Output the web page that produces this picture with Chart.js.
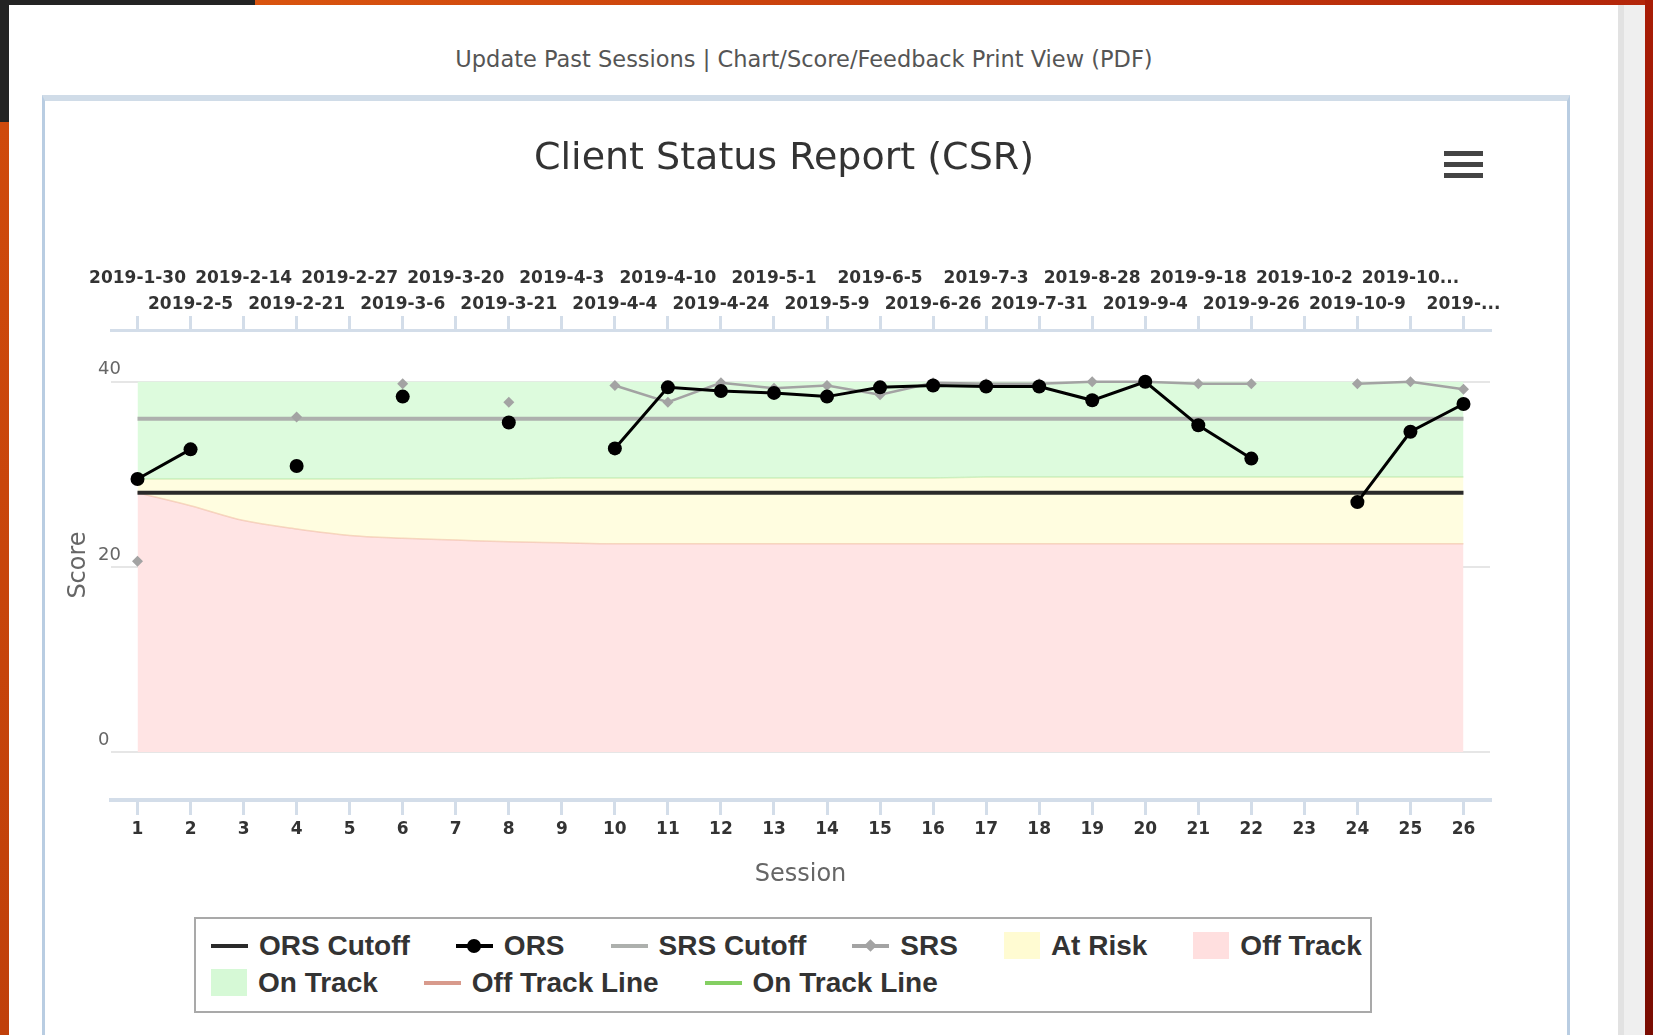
<!DOCTYPE html>
<html lang="en">
<head>
<meta charset="UTF-8">
<title>Client Status Report (CSR)</title>
<script src="https://cdn.jsdelivr.net/npm/chart.js@4.4.1/dist/chart.umd.min.js"></script>
<style>
    html, body { margin: 0; padding: 0; }
    body { width: 1653px; height: 1035px; overflow: hidden; position: relative; background: #c8410d; font-family: "DejaVu Sans", sans-serif; }
    .topbar { position: absolute; left: 0; top: 0; width: 1653px; height: 5px; background: linear-gradient(90deg, #232323 0, #232323 255px, #d9540f 255px, #b3260a 1645px, #8c1405 1645px); }
    .leftstrip { position: absolute; left: 0; top: 0; width: 9px; height: 1035px; background: linear-gradient(180deg, #232323 0, #232323 122px, #cf4a0c 122px, #c0400a 1035px); }
    .rightstrip { position: absolute; left: 1645px; top: 0; width: 8px; height: 1035px; background: linear-gradient(180deg, #a81c06, #7a0c02); }
    .panel { position: absolute; left: 9px; top: 5px; width: 1609px; height: 1030px; background: #fff; }
    .scroll { position: absolute; left: 1618px; top: 5px; width: 27px; height: 1030px; background: #efefef; border-left: 6px solid #e2e2e2; box-sizing: border-box; }
    .links { position: absolute; left: 304px; width: 1000px; top: 46px; text-align: center; font-size: 22.5px; color: #555; white-space: nowrap; }
    .box { position: absolute; left: 42px; top: 95px; width: 1528px; height: 960px; box-sizing: border-box; border-left: 3px solid #b9cde2; border-right: 3px solid #b9cde2; border-top: 6px solid #d0dce8; background: #fff; }
    .chart-wrap { position: absolute; left: 45px; top: 101px; width: 1478px; height: 790px; }
    .menu { position: absolute; left: 1444px; top: 151px; width: 39px; }
    .menu span { display: block; height: 5px; background: #444; margin-bottom: 6px; }
    #legend { position: absolute; left: 194px; top: 917px; width: 1178px; height: 96px; box-sizing: border-box; border: 2px solid #a9a9a9; padding: 8px 0 0 15px; display: flex; flex-wrap: wrap; column-gap: 46px; align-content: flex-start; font-family: "Liberation Sans", Arial, sans-serif; font-weight: bold; font-size: 28px; color: #333; }
    #legend .item { display: inline-flex; align-items: center; height: 37px; white-space: nowrap; }
    #legend .sym { position: relative; display: inline-block; margin-right: 11px; }
    #legend .sym.line { width: 37px; height: 4px; background: var(--c); }
    #legend .sym.rect { width: 36px; height: 27px; }
    #legend .sym.dot::after { content: ''; position: absolute; left: 50%; top: 50%; width: 14px; height: 14px; margin: -7px 0 0 -7px; border-radius: 50%; background: var(--c); }
    #legend .sym.diamond::after { content: ''; position: absolute; left: 50%; top: 50%; width: 9px; height: 9px; margin: -4.5px 0 0 -4.5px; transform: rotate(45deg); background: var(--c); }
    #legend .break { flex-basis: 100%; height: 0; }
</style>
</head>
<body>
    <div class="topbar"></div>
    <div class="leftstrip"></div>
    <div class="rightstrip"></div>
    <div class="panel"></div>
    <div class="scroll"></div>

    <div class="links">Update Past Sessions | Chart/Score/Feedback Print View (PDF)</div>

    <div class="box"></div>
    <div class="chart-wrap"><canvas id="csrChart"></canvas></div>
    <div class="menu"><span></span><span></span><span></span></div>
    <div id="legend"></div>

<script>
    // sessions along the bottom, visit dates along the top
    const sessions = ['1', '2', '3', '4', '5', '6', '7', '8', '9', '10', '11', '12', '13',
        '14', '15', '16', '17', '18', '19', '20', '21', '22', '23', '24', '25', '26'];
    const sessionDates = ['2019-1-30', '2019-2-5', '2019-2-14', '2019-2-21', '2019-2-27', '2019-3-6',
        '2019-3-20', '2019-3-21', '2019-4-3', '2019-4-4', '2019-4-10', '2019-4-24', '2019-5-1',
        '2019-5-9', '2019-6-5', '2019-6-26', '2019-7-3', '2019-7-31', '2019-8-28', '2019-9-4',
        '2019-9-18', '2019-9-26', '2019-10-2', '2019-10-9', '2019-10...', '2019-...'];

    const orsScores = [29.5, 32.7, null, 30.9, null, 38.4, null, 35.6, null, 32.8, 39.4, 39.0, 38.8,
        38.4, 39.4, 39.6, 39.5, 39.5, 38.0, 40.0, 35.3, 31.7, null, 27.0, 34.6, 37.6];
    const srsScores = [20.6, null, null, 36.2, null, 39.8, null, 37.8, null, 39.6, 37.8, 39.9, 39.3,
        39.6, 38.6, 39.9, 39.8, 39.8, 40.0, 40.0, 39.8, 39.8, null, 39.8, 40.0, 39.2];

    const orsCutoff = [28, 28, 28, 28, 28, 28, 28, 28, 28, 28, 28, 28, 28,
        28, 28, 28, 28, 28, 28, 28, 28, 28, 28, 28, 28, 28];
    const srsCutoff = [36, 36, 36, 36, 36, 36, 36, 36, 36, 36, 36, 36, 36,
        36, 36, 36, 36, 36, 36, 36, 36, 36, 36, 36, 36, 36];

    // expected treatment response bands
    const offTrackLine = [28.0, 26.6, 25.0, 24.1, 23.4, 23.1, 22.9, 22.7, 22.6, 22.5, 22.5, 22.5, 22.5,
        22.5, 22.5, 22.5, 22.5, 22.5, 22.5, 22.5, 22.5, 22.5, 22.5, 22.5, 22.5, 22.5];
    const onTrackLine = [29.5, 29.5, 29.5, 29.5, 29.5, 29.5, 29.5, 29.5, 29.6, 29.6, 29.6, 29.6, 29.6,
        29.6, 29.6, 29.6, 29.7, 29.7, 29.7, 29.7, 29.7, 29.7, 29.7, 29.7, 29.7, 29.7];
    const onTrackTop = [40, 40, 40, 40, 40, 40, 40, 40, 40, 40, 40, 40, 40,
        40, 40, 40, 40, 40, 40, 40, 40, 40, 40, 40, 40, 40];

    const scoreTicks = [0, 20, 40];

    Chart.defaults.font.family = 'DejaVu Sans';

    // legend drawn as html below the chart
    const htmlLegend = {
        id: 'htmlLegend',
        afterUpdate(chart) {
            const box = document.getElementById('legend');
            box.innerHTML = '';
            chart.data.datasets.forEach(ds => {
                const item = document.createElement('div');
                item.className = 'item';
                const sym = document.createElement('span');
                if (ds.fill !== false) {
                    sym.className = 'sym rect';
                    sym.style.background = ds.legendColor || ds.backgroundColor;
                } else {
                    sym.className = 'sym line';
                    sym.style.setProperty('--c', ds.legendColor || ds.borderColor);
                    if (ds.pointRadius > 0) sym.classList.add(ds.pointStyle === 'rectRot' ? 'diamond' : 'dot');
                }
                item.appendChild(sym);
                item.appendChild(document.createTextNode(ds.label));
                box.appendChild(item);
                if (ds.label === 'Off Track') {
                    const br = document.createElement('div');
                    br.className = 'break';
                    box.appendChild(br);
                }
            });
        }
    };

    const flat = { pointRadius: 0, pointHoverRadius: 0, fill: false };

    new Chart(document.getElementById('csrChart'), {
        type: 'line',
        data: {
            labels: sessions,
            datasets: [
                { label: 'ORS Cutoff', data: orsCutoff, borderColor: '#2a2a2a', borderWidth: 4, order: 3, ...flat },
                { label: 'ORS', data: orsScores, borderColor: '#000', borderWidth: 3, pointRadius: 7, pointStyle: 'circle',
                  pointBackgroundColor: '#000', pointBorderWidth: 0, fill: false, order: 1 },
                { label: 'SRS Cutoff', data: srsCutoff, borderColor: '#adb0ad', borderWidth: 4, order: 4, ...flat },
                { label: 'SRS', data: srsScores, borderColor: '#a3a3a3', borderWidth: 2.5, pointRadius: 5.5, pointStyle: 'rectRot',
                  pointBackgroundColor: '#a3a3a3', pointBorderWidth: 0, fill: false, order: 2 },
                { label: 'At Risk', data: onTrackLine, fill: 5, backgroundColor: '#fffde0', legendColor: '#fffbd2',
                  borderColor: 'transparent', borderWidth: 1, pointRadius: 0, order: 7 },
                { label: 'Off Track', data: offTrackLine, fill: 'origin', backgroundColor: '#ffe4e4', legendColor: '#ffdfdf',
                  borderColor: 'transparent', borderWidth: 1, pointRadius: 0, cubicInterpolationMode: 'monotone', order: 8 },
                { label: 'On Track', data: onTrackTop, fill: 4, backgroundColor: '#ddfbdd', legendColor: '#d6f9d6',
                  borderColor: 'transparent', borderWidth: 1, pointRadius: 0, order: 6 },
                { label: 'Off Track Line', data: offTrackLine, borderColor: 'rgba(236,170,140,0.45)', legendColor: '#d89a8c',
                  borderWidth: 1.5, cubicInterpolationMode: 'monotone', order: 5, ...flat },
                { label: 'On Track Line', data: onTrackLine, borderColor: 'rgba(150,215,120,0.35)', legendColor: '#84cf62',
                  borderWidth: 1.5, order: 5, ...flat }
            ]
        },
        options: {
            responsive: true,
            maintainAspectRatio: false,
            animation: false,
            events: [],
            layout: { padding: { left: 0, right: 0, top: 0, bottom: 1.6 } },
            plugins: {
                legend: { display: false },
                tooltip: { enabled: false },
                title: {
                    display: true,
                    text: 'Client Status Report (CSR)',
                    color: '#333',
                    font: { family: 'DejaVu Sans', size: 38, weight: 'normal' },
                    padding: { top: 35.2, bottom: 0 }
                }
            },
            scales: {
                x: {
                    type: 'category',
                    position: 'bottom',
                    offset: true,
                    grid: { drawOnChartArea: false, drawTicks: true, tickLength: 15, color: '#d3dde9', lineWidth: 3 },
                    border: { display: true, color: '#d3dde9', width: 4 },
                    ticks: { autoSkip: false, maxRotation: 0, padding: 4, color: '#333',
                             font: { family: 'DejaVu Sans', size: 17, weight: 'bold' } },
                    title: { display: true, text: 'Session', color: '#666', font: { size: 24 }, padding: { top: 0, bottom: 0 } },
                    afterFit(s) { s.height = 89.4; }
                },
                x2: {
                    type: 'category',
                    position: 'top',
                    labels: sessionDates,
                    offset: true,
                    grid: { drawOnChartArea: false, drawTicks: true, tickLength: 14, color: '#d3dde9', lineWidth: 3 },
                    border: { display: true, color: '#d3dde9', width: 3 },
                    ticks: {
                        autoSkip: false, maxRotation: 0, padding: -2, color: '#333',
                        font: { family: 'DejaVu Sans', size: 17, weight: 'bold', lineHeight: '26px' },
                        // stagger the dates over two rows
                        callback: function (v, i) {
                            const t = this.getLabelForValue(v);
                            return i % 2 ? ['', t] : [t, ''];
                        }
                    },
                    afterFit(s) { s.height = 148.2; }
                },
                y: {
                    type: 'linear',
                    min: -5.2,
                    max: 45.6,
                    grid: { color: '#e6e6e6', lineWidth: 2, drawTicks: false },
                    border: { display: false },
                    ticks: {
                        stepSize: 20,
                        mirror: true,
                        padding: -13,
                        labelOffset: -12,
                        color: '#666',
                        font: { family: 'DejaVu Sans', size: 18 }
                    },
                    afterBuildTicks(s) { s.ticks = s.ticks.filter(t => scoreTicks.includes(t.value)); },
                    title: { display: true, text: 'Score', color: '#666', font: { size: 24 }, padding: { top: 19.6, bottom: 0 } },
                    afterFit(s) { s.width = 66; }
                },
                yr: {
                    type: 'linear',
                    position: 'right',
                    grid: { display: false },
                    border: { display: false },
                    ticks: { display: false },
                    afterFit(s) { s.width = 33; }
                }
            }
        },
        plugins: [htmlLegend]
    });
</script>
</body>
</html>
